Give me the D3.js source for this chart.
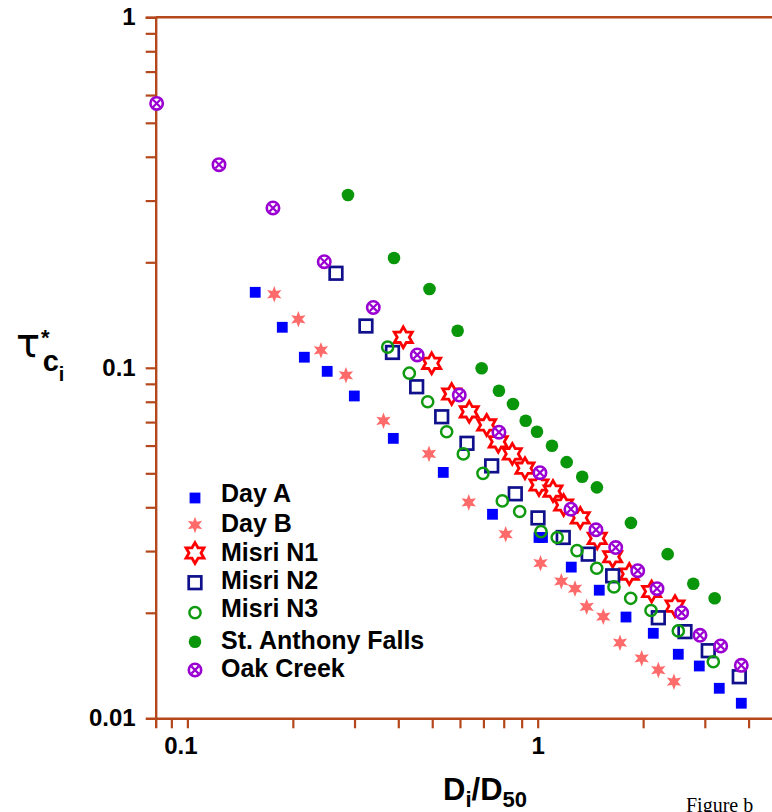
<!DOCTYPE html>
<html>
<head>
<meta charset="utf-8">
<script src="https://cdn.jsdelivr.net/npm/d3@7/dist/d3.min.js"></script>
<style>
  body { margin: 0; background: #fff; }
  svg { display: block; font-family: "Liberation Sans", Arial, sans-serif; }
</style>
</head>
<body>
<div id="chart"></div>
<script>
// values (Di/D50 , tau*ci)
const dayA_x = [0.1562, 0.1866, 0.2157, 0.2507, 0.2996, 0.3871, 0.5376, 0.743, 1.0086, 1.032, 1.247, 1.499, 1.787, 2.138, 2.52, 2.893, 3.299, 3.813];
const dayA_y = [0.1642, 0.1305, 0.1072, 0.0977, 0.0831, 0.0629, 0.0503, 0.0382, 0.0328, 0.0328, 0.027, 0.0232, 0.01945, 0.01748, 0.01523, 0.0141, 0.01218, 0.01104];

const dayB_x = [0.177, 0.2074, 0.2406, 0.2836, 0.3629, 0.4895, 0.6357, 0.8103, 1.0186, 1.168, 1.278, 1.38, 1.539, 1.718, 1.981, 2.21, 2.449];
const dayB_y = [0.1621, 0.1375, 0.1122, 0.0952, 0.0706, 0.0568, 0.0413, 0.0335, 0.0277, 0.0246, 0.02344, 0.0208, 0.0195, 0.01643, 0.01483, 0.01373, 0.01272];

const misriN1_x = [0.4133, 0.4982, 0.5682, 0.6377, 0.715, 0.7717, 0.8463, 0.9198, 1.0086, 1.106, 1.186, 1.323, 1.479, 1.637, 1.826, 2.115, 2.466];
const misriN1_y = [0.1222, 0.103, 0.0842, 0.0749, 0.0687, 0.0615, 0.0568, 0.0517, 0.0463, 0.0445, 0.0406, 0.0373, 0.0326, 0.0289, 0.0258, 0.023, 0.0209];

const misriN2_x = [0.2656, 0.3234, 0.385, 0.4514, 0.5321, 0.6283, 0.7391, 0.8631, 1.002, 1.183, 1.394, 1.637, 2.21, 2.633, 3.069, 3.763];
const misriN2_y = [0.1861, 0.1316, 0.1106, 0.0883, 0.0725, 0.0609, 0.0525, 0.0437, 0.0373, 0.0328, 0.0294, 0.0255, 0.01936, 0.01767, 0.01559, 0.01314];

const misriN3_x = [0.3731, 0.4301, 0.4853, 0.5497, 0.6134, 0.6979, 0.7925, 0.8884, 1.022, 1.137, 1.295, 1.474, 1.651, 1.843, 2.106, 2.52, 3.172];
const misriN3_y = [0.1146, 0.0965, 0.08, 0.0657, 0.0568, 0.05, 0.0417, 0.0389, 0.0341, 0.0328, 0.0301, 0.0268, 0.0237, 0.022, 0.0203, 0.01775, 0.0145];

const stAnthony_x = [0.2874, 0.3889, 0.4911, 0.5909, 0.6919, 0.7752, 0.8502, 0.9242, 0.9954, 1.0985, 1.21, 1.34, 1.476, 1.846, 2.35, 2.781, 3.201];
const stAnthony_y = [0.3112, 0.2058, 0.1678, 0.1276, 0.0997, 0.086, 0.0788, 0.0706, 0.0657, 0.0599, 0.0538, 0.0489, 0.0456, 0.0361, 0.0294, 0.0242, 0.022];

const oakCreek_x = [0.0817, 0.1231, 0.1755, 0.2459, 0.3394, 0.4531, 0.5973, 0.7752, 1.015, 1.244, 1.467, 1.67, 1.93, 2.191, 2.577, 2.906, 3.33, 3.813];
const oakCreek_y = [0.568, 0.3798, 0.2857, 0.2008, 0.1486, 0.1088, 0.0836, 0.0655, 0.0502, 0.0395, 0.0345, 0.0307, 0.02637, 0.02344, 0.02001, 0.01725, 0.01608, 0.01416];

const seriesNames = ["Day A", "Day B", "Misri N1", "Misri N2", "Misri N3", "St. Anthony Falls", "Oak Creek"];
const xTicks = [0.09, 0.1, 0.2, 0.3, 0.4, 0.5, 0.6, 0.7, 0.8, 0.9, 1, 2, 3, 4, 5];
const yTicks = [0.02, 0.03, 0.04, 0.05, 0.06, 0.07, 0.08, 0.09, 0.1, 0.2, 0.3, 0.4, 0.5, 0.6, 0.7, 0.8, 0.9, 1];
const xLabels = [0.1, 1];
const yLabels = [0.01, 0.1, 1];

const width = 772, height = 812;
const axisColor = "#b4471c";

const svg = d3.select("#chart").append("svg")
  .attr("width", width)
  .attr("height", height);

const decadeX = 350.3;
const x = d3.scaleLog()
  .domain([0.0812, 5.5])
  .range([155.7, 155.7 + decadeX * Math.log10(5.5 / 0.0812)]);
const y = d3.scaleLog()
  .domain([0.01, 1])
  .range([718.3, 17.3]);

// axes
const xAxis = svg.append("g")
  .attr("transform", `translate(0,${y(0.01)})`)
  .call(d3.axisBottom(x)
    .tickValues(xTicks)
    .tickSize(10)
    .tickSizeOuter(10)
    .tickPadding(9)
    .tickFormat(d => xLabels.includes(d) ? d3.format("")(d) : ""));

const yAxis = svg.append("g")
  .attr("transform", `translate(${x.range()[0]},0)`)
  .call(d3.axisLeft(y)
    .tickValues(yTicks)
    .tickSize(10)
    .tickSizeOuter(10)
    .tickPadding(10)
    .tickFormat(d => yLabels.includes(d) ? d3.format("")(d) : ""));

// bottom label for 0.01 lives on the domain end
yAxis.append("text")
  .attr("x", -20).attr("y", 0).attr("dy", "0.32em")
  .attr("text-anchor", "end")
  .text("0.01")
  .attr("transform", `translate(0,${y(0.01)})`);

[xAxis, yAxis].forEach(g => {
  g.attr("color", axisColor);
  g.select(".domain").attr("stroke-width", 2.4);
  g.selectAll(".tick line").attr("stroke-width", 2.2);
  g.selectAll("text")
    .attr("fill", "#000")
    .attr("font-size", 24)
    .attr("font-weight", "bold")
    .attr("font-family", "'Liberation Sans', Arial, sans-serif");
});
xAxis.selectAll(".tick text").attr("dx", d => d === 0.1 ? -7 : 0);

// top frame line
svg.append("line")
  .attr("x1", x.range()[0]).attr("x2", width + 10)
  .attr("y1", y(1)).attr("y2", y(1))
  .attr("stroke", axisColor).attr("stroke-width", 2.4);

// marker shapes
function starPath(n, rOut, rIn) {
  const pts = [];
  for (let i = 0; i < n * 2; i++) {
    const a = -Math.PI / 2 + i * Math.PI / n;
    const r = i % 2 === 0 ? rOut : rIn;
    pts.push([r * Math.cos(a), r * Math.sin(a)]);
  }
  return "M" + pts.map(p => p[0].toFixed(2) + "," + p[1].toFixed(2)).join("L") + "Z";
}

function drawMarker(g, type) {
  if (type === "Day A") {
    g.append("rect").attr("x", -5.4).attr("y", -5.4).attr("width", 10.8).attr("height", 10.8)
      .attr("fill", "#0000ff");
  } else if (type === "Day B") {
    g.append("path").attr("d", starPath(6, 8.3, 3.8)).attr("fill", "#ff6a6a");
  } else if (type === "Misri N1") {
    g.append("path").attr("d", starPath(6, 10.4, 6.0))
      .attr("fill", "#fff").attr("stroke", "#ff0000").attr("stroke-width", 2.8)
      .attr("stroke-linejoin", "miter");
  } else if (type === "Misri N2") {
    g.append("rect").attr("x", -6.3).attr("y", -6.3).attr("width", 12.6).attr("height", 12.6)
      .attr("fill", "none").attr("stroke", "#10108c").attr("stroke-width", 2.7);
  } else if (type === "Misri N3") {
    g.append("circle").attr("r", 5.6)
      .attr("fill", "none").attr("stroke", "#109a10").attr("stroke-width", 2.5);
  } else if (type === "St. Anthony Falls") {
    g.append("circle").attr("r", 6.3).attr("fill", "#0a960a");
  } else if (type === "Oak Creek") {
    g.append("circle").attr("r", 6.2)
      .attr("fill", "#fff").attr("stroke", "#9b00d2").attr("stroke-width", 2.6);
    g.append("path").attr("d", "M-3.6,-3.6L3.6,3.6M-3.6,3.6L3.6,-3.6")
      .attr("stroke", "#9b00d2").attr("stroke-width", 2.2);
  }
}

const seriesData = [
  [dayA_x, dayA_y], [dayB_x, dayB_y], [misriN1_x, misriN1_y], [misriN2_x, misriN2_y],
  [misriN3_x, misriN3_y], [stAnthony_x, stAnthony_y], [oakCreek_x, oakCreek_y]
];

const plot = svg.append("g");
seriesNames.forEach((name, si) => {
  const [xs, ys] = seriesData[si];
  const pts = xs.map((v, i) => [v, ys[i]]);
  plot.append("g").selectAll("g")
    .data(pts)
    .enter().append("g")
      .attr("transform", d => `translate(${x(d[0])},${y(d[1])})`)
      .each(function() { drawMarker(d3.select(this), name); });
});

// legend
const legendRows = [498, 525, 553, 582.7, 612.7, 641.7, 670];
const legendText = [493.3, 523, 551.7, 580, 608.3, 640, 668.3];
const legend = svg.append("g");
seriesNames.forEach((name, i) => {
  const g = legend.append("g").attr("transform", `translate(195,${legendRows[i]})`);
  drawMarker(g, name);
  legend.append("text")
    .attr("x", 221).attr("y", legendText[i]).attr("dy", "0.36em")
    .attr("font-size", 25).attr("font-weight", "bold")
    .text(name);
});

// axis titles
const yt = svg.append("text").attr("x", 16).attr("y", 357);
yt.append("tspan").attr("font-family", "'DejaVu Sans', sans-serif").attr("font-size", 40).text("τ");
yt.append("tspan").attr("font-size", 22).attr("font-weight", "bold").attr("dy", -12).attr("dx", 1).text("*");
yt.append("tspan").attr("font-size", 29).attr("font-weight", "bold").attr("dy", 26).attr("dx", -7).text("c");
yt.append("tspan").attr("font-size", 20).attr("font-weight", "bold").attr("dy", 10).text("i");

const xt = svg.append("text").attr("x", 443).attr("y", 800).attr("font-weight", "bold");
xt.append("tspan").attr("font-size", 31).text("D");
xt.append("tspan").attr("font-size", 22).attr("dy", 7).text("i");
xt.append("tspan").attr("font-size", 31).attr("dy", -7).text("/D");
xt.append("tspan").attr("font-size", 22).attr("dy", 7).text("50");

// caption fragment at the page edge
svg.append("text")
  .attr("x", 686).attr("y", 812)
  .attr("font-family", "'Liberation Serif', 'Times New Roman', serif")
  .attr("font-size", 20)
  .text("Figure b");
</script>
</body>
</html>
